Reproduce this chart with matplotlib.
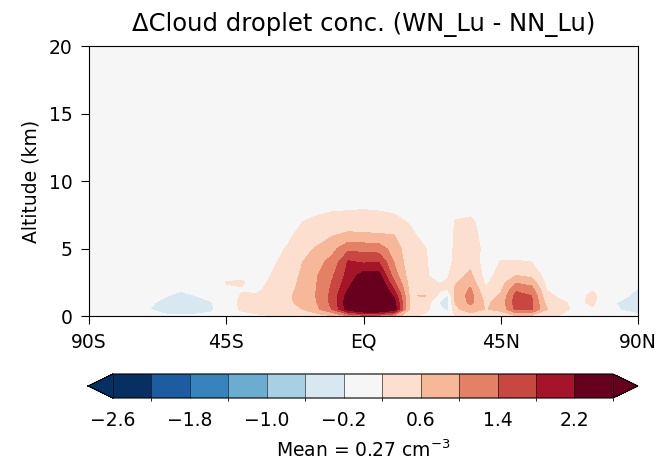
import numpy as np
import matplotlib
matplotlib.use('Agg')
import matplotlib.pyplot as plt
from matplotlib.colors import ListedColormap, BoundaryNorm

# latitude (deg) and altitude (km) of the grid
lat = [-90, -85, -80, -75, -70, -65, -60, -55, -50, -45, -40, -35, -30,
       -25, -20, -15, -10, -5, 0, 5, 10, 15, 20, 25, 27.5, 30, 35, 40, 45,
       50, 55, 60, 65, 70, 75, 80, 85, 90]
alt_km = [0, 0.5, 1, 1.5, 2, 2.5, 3, 4, 5, 6, 7, 8, 9, 20]

# change in cloud droplet concentration (cm-3), one vertical profile per latitude
profiles = [
    [0, 0, 0, 0, 0, 0, 0, 0, 0, 0, 0, 0, 0, 0],                               # 90S
    [0, 0, 0, 0, 0, 0, 0, 0, 0, 0, 0, 0, 0, 0],
    [0, 0, 0, 0, 0, 0, 0, 0, 0, 0, 0, 0, 0, 0],
    [0, 0, 0, 0, 0, 0, 0, 0, 0, 0, 0, 0, 0, 0],
    [-0.1, -0.2, -0.15, -0.05, 0, 0, 0, 0, 0, 0, 0, 0, 0, 0],
    [-0.15, -0.32, -0.3, -0.18, -0.05, 0, 0, 0, 0, 0, 0, 0, 0, 0],
    [-0.15, -0.34, -0.34, -0.28, -0.16, 0, 0, 0, 0, 0, 0, 0, 0, 0],
    [-0.15, -0.32, -0.3, -0.2, -0.08, 0, 0, 0, 0, 0, 0, 0, 0, 0],
    [-0.12, -0.26, -0.22, -0.1, 0, 0, 0, 0, 0, 0, 0, 0, 0, 0],
    [0, 0.05, 0.05, 0.08, 0.15, 0.22, 0.05, 0, 0, 0, 0, 0, 0, 0],            # 45S
    [0.1, 0.24, 0.26, 0.22, 0.18, 0.24, 0.1, 0, 0, 0, 0, 0, 0, 0],
    [0.15, 0.3, 0.32, 0.24, 0.12, 0.05, 0, 0, 0, 0, 0, 0, 0, 0],
    [0.2, 0.36, 0.42, 0.4, 0.34, 0.28, 0.22, 0.14, 0.06, 0, 0, 0, 0, 0],
    [0.25, 0.48, 0.55, 0.55, 0.5, 0.46, 0.42, 0.32, 0.23, 0.12, 0.05, 0, 0, 0],
    [0.3, 0.6, 0.68, 0.7, 0.7, 0.68, 0.66, 0.6, 0.48, 0.32, 0.2, 0.06, 0, 0],
    [0.4, 0.95, 1.02, 1.05, 1.04, 1.02, 1.0, 0.88, 0.65, 0.42, 0.26, 0.13, 0.03, 0],
    [0.6, 1.45, 1.55, 1.55, 1.5, 1.45, 1.38, 1.15, 0.9, 0.58, 0.32, 0.16, 0.05, 0],
    [1.0, 2.45, 2.5, 2.4, 2.2, 2.05, 1.95, 1.85, 1.3, 0.68, 0.36, 0.16, 0.05, 0],
    [1.2, 2.9, 3.1, 3.0, 2.85, 2.65, 2.4, 1.75, 1.25, 0.65, 0.36, 0.18, 0.05, 0],  # EQ
    [1.2, 2.9, 3.1, 3.0, 2.85, 2.6, 2.35, 1.8, 1.2, 0.64, 0.34, 0.16, 0.05, 0],
    [0.9, 2.45, 2.4, 2.1, 1.75, 1.45, 1.2, 0.98, 0.82, 0.6, 0.3, 0.12, 0.03, 0],
    [0.3, 0.55, 0.58, 0.58, 0.52, 0.47, 0.42, 0.36, 0.33, 0.3, 0.17, 0.05, 0, 0],
    [0.1, 0.35, 0.45, 0.62, 0.42, 0.3, 0.25, 0.25, 0.22, 0.08, 0.02, 0, 0, 0],
    [0.05, -0.1, -0.25, 0.1, 0.25, 0.18, 0.05, 0, 0, 0, 0, 0, 0, 0],
    [0.05, -0.3, -0.35, -0.25, 0.2, 0.25, 0.15, 0.05, 0, 0, 0, 0, 0, 0],
    [0.2, 0.5, 0.62, 0.68, 0.64, 0.55, 0.45, 0.3, 0.28, 0.26, 0.22, 0.05, 0, 0],
    [0.4, 0.82, 1.1, 1.15, 1.05, 0.85, 0.68, 0.5, 0.55, 0.4, 0.28, 0.05, 0, 0],
    [0.3, 0.58, 0.52, 0.38, 0.25, 0.12, 0.05, 0, 0, 0, 0, 0, 0, 0],
    [0.35, 0.7, 0.75, 0.65, 0.55, 0.45, 0.35, 0.22, 0.05, 0, 0, 0, 0, 0],    # 45N
    [0.6, 1.5, 1.62, 1.55, 1.3, 0.95, 0.6, 0.22, 0.05, 0, 0, 0, 0, 0],
    [0.5, 1.45, 1.5, 1.4, 1.15, 0.82, 0.5, 0.2, 0.05, 0, 0, 0, 0, 0],
    [0.3, 0.62, 0.45, 0.3, 0.18, 0.08, 0.03, 0, 0, 0, 0, 0, 0, 0],
    [0.15, 0.3, 0.25, 0.1, 0.05, 0, 0, 0, 0, 0, 0, 0, 0, 0],
    [0, 0.1, 0.1, 0.05, 0, 0, 0, 0, 0, 0, 0, 0, 0, 0],
    [0, 0.15, 0.28, 0.3, 0.15, 0.05, 0, 0, 0, 0, 0, 0, 0, 0],
    [0, -0.12, -0.15, -0.05, 0, 0, 0, 0, 0, 0, 0, 0, 0, 0],
    [-0.1, -0.22, -0.24, -0.15, -0.05, 0, 0, 0, 0, 0, 0, 0, 0, 0],
    [-0.15, -0.3, -0.3, -0.28, -0.22, -0.1, 0, 0, 0, 0, 0, 0, 0, 0],         # 90N
]

levels = np.round(np.arange(-2.6, 2.61, 0.4), 1)
xtick_pos = [-90, -45, 0, 45, 90]
xtick_labels = ['90S', '45S', 'EQ', '45N', '90N']
mean_value = 0.27

# 13 colours from RdBu_r, the end ones reused for the extensions
colors = plt.get_cmap('RdBu_r')(np.linspace(0, 1, 13))
cmap = ListedColormap(colors)
cmap.set_under(colors[0])
cmap.set_over(colors[-1])
norm = BoundaryNorm(levels, cmap.N)

field = np.array(profiles).T

fig = plt.figure(figsize=(6.6, 4.62), dpi=100)
ax = fig.add_axes([0.135, 0.316, 0.832, 0.584])
cf = ax.contourf(lat, alt_km, field, levels=levels, cmap=cmap, norm=norm,
                 extend='both')
ax.set_xlim(-90, 90)
ax.set_ylim(0, 20)
ax.set_xticks(xtick_pos)
ax.set_xticklabels(xtick_labels)
ax.set_yticks([0, 5, 10, 15, 20])
ax.tick_params(labelsize=13.5, length=6, pad=6)
ax.set_ylabel('Altitude (km)', fontsize=13.5, labelpad=6)
ax.set_title('\u0394Cloud droplet conc. (WN_Lu - NN_Lu)', fontsize=17.5, pad=11)

cax = fig.add_axes([0.1333, 0.1385, 0.8333, 0.052])
cb = fig.colorbar(cf, cax=cax, orientation='horizontal', ticks=levels[::2],
                  drawedges=True)
cb.ax.tick_params(labelsize=13.5, length=0, pad=9)
cb.set_label('Mean = %.2f cm$^{-3}$' % mean_value, fontsize=13.5, labelpad=7)

fig.savefig('out.png', dpi=100)
